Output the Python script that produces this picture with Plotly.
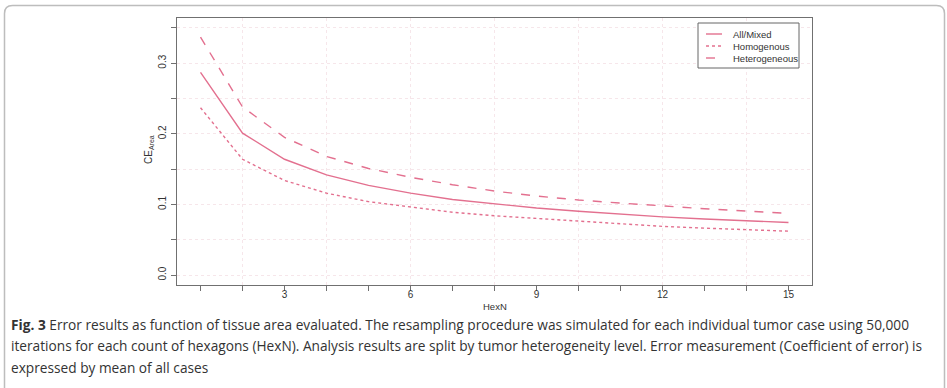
import plotly.graph_objects as go

hexn = list(range(1, 16))
mixed = [0.287, 0.201, 0.164, 0.142, 0.127, 0.116, 0.107, 0.1005, 0.095, 0.0905,
         0.086, 0.0825, 0.0795, 0.077, 0.0745]
homog = [0.237, 0.164, 0.134, 0.116, 0.104, 0.096, 0.089, 0.084, 0.080, 0.0765,
         0.0725, 0.069, 0.0665, 0.0645, 0.0622]
heter = [0.337, 0.238, 0.195, 0.168, 0.151, 0.1385, 0.128, 0.119, 0.112, 0.1063,
         0.102, 0.0977, 0.094, 0.0906, 0.0873]
series_names = ["All/Mixed", "Homogenous", "Heterogeneous"]
series_dash = ["solid", "dot", "dash"]
x_tick_vals = list(range(1, 16))
x_tick_text = ["" if v % 3 else str(v) for v in x_tick_vals]
x_grid_vals = [2, 4, 6, 8, 10, 12, 14]
y_tick_vals = [0, 0.05, 0.1, 0.15, 0.2, 0.25, 0.3, 0.35]
y_tick_text = ["0.0", "", "0.1", "", "0.2", "", "0.3", ""]
caption_lines = [
    "<b>Fig. 3</b> Error results as function of tissue area evaluated. The resampling procedure was simulated for each individual tumor case using 50,000",
    "iterations for each count of hexagons (HexN). Analysis results are split by tumor heterogeneity level. Error measurement (Coefficient of error) is",
    "expressed by mean of all cases",
]

W, H = 947, 388
LINE = "#e3708f"
AX = "#707070"
GRID = "#f6e6ea"
FONT = "Liberation Sans"

fig = go.Figure()
for name, vals, dash in zip(series_names, [mixed, homog, heter], series_dash):
    fig.add_trace(go.Scatter(x=hexn, y=vals, mode="lines", name=name, showlegend=False,
                             line=dict(color=LINE, width=1.4, dash=dash)))

L, R, T, B = 177, 812, 18, 285
fig.update_layout(
    width=W, height=H, margin=dict(l=0, r=0, t=0, b=0),
    paper_bgcolor="white", plot_bgcolor="white",
    font=dict(family=FONT, size=10, color="#333"),
    showlegend=False,
    xaxis=dict(domain=[L / W, R / W], range=[0.44, 15.56],
               tickmode="array", tickvals=x_tick_vals, ticktext=x_tick_text,
               ticks="outside", ticklen=5, tickcolor=AX, tickwidth=1,
               ticklabelstandoff=-5,
               showline=True, linecolor=AX, linewidth=1, mirror=True,
               showgrid=False, zeroline=False,
               minor=dict(tickmode="array", tickvals=x_grid_vals, showgrid=True,
                          gridcolor=GRID, griddash="dot", gridwidth=1, ticks=""),
               tickfont=dict(size=10, color="#333")),
    yaxis=dict(domain=[1 - B / H, 1 - T / H], range=[-0.014, 0.364],
               tickmode="array", tickvals=y_tick_vals, ticktext=y_tick_text,
               ticks="outside", ticklen=5, tickcolor=AX, tickwidth=1,
               tickangle=-90, ticklabelstandoff=1,
               showline=True, linecolor=AX, linewidth=1, mirror=True,
               showgrid=True, gridcolor=GRID, griddash="dot", gridwidth=1,
               zeroline=False, tickfont=dict(size=10, color="#333")),
)

# card border with rounded top corners
r = 8
x0, x1, y0, y1 = 4.5, 944.5, 5.5, 400
path = (f"M {x0/W} {1-y1/H} L {x0/W} {1-(y0+r)/H} Q {x0/W} {1-y0/H} {(x0+r)/W} {1-y0/H} "
        f"L {(x1-r)/W} {1-y0/H} Q {x1/W} {1-y0/H} {x1/W} {1-(y0+r)/H} L {x1/W} {1-y1/H}")
fig.add_shape(type="path", path=path, xref="paper", yref="paper",
              line=dict(color="#bdbdbd", width=1.5))

# legend box (drawn manually to match R's compact legend)
lx0, lx1, ly0, ly1 = 698, 799, 23, 68
fig.add_shape(type="rect", x0=lx0 / W, x1=lx1 / W, y0=1 - ly1 / H, y1=1 - ly0 / H,
              xref="paper", yref="paper", line=dict(color="#666", width=1),
              fillcolor="white")
for i, (name, dash) in enumerate(zip(series_names, series_dash)):
    yy = 34 + i * 12
    fig.add_shape(type="line", x0=706 / W, x1=722 / W, y0=1 - yy / H, y1=1 - yy / H,
                  xref="paper", yref="paper", line=dict(color=LINE, width=1.4, dash=dash))
    fig.add_annotation(text=name, x=731 / W, y=1 - yy / H, xref="paper", yref="paper",
                       xanchor="left", yanchor="middle", showarrow=False,
                       font=dict(family=FONT, size=9.5, color="#333"))

fig.add_annotation(text="CE<sub>Area</sub>", textangle=-90, x=141 / W, y=1 - 150 / H,
                   xref="paper", yref="paper", showarrow=False,
                   font=dict(family=FONT, size=10, color="#333"))
fig.add_annotation(text="HexN", x=(L + R) / 2 / W, y=1 - 306 / H,
                   xref="paper", yref="paper", showarrow=False, yanchor="middle",
                   font=dict(family=FONT, size=9.5, color="#333"))
for i, line in enumerate(caption_lines):
    fig.add_annotation(text=line, x=9 / W, y=1 - (324 + i * 21.5) / H,
                       xref="paper", yref="paper",
                       xanchor="left", yanchor="middle", align="left", showarrow=False,
                       font=dict(family="Open Sans", size=13.7, color="#333"))

fig.write_html("out.html")
